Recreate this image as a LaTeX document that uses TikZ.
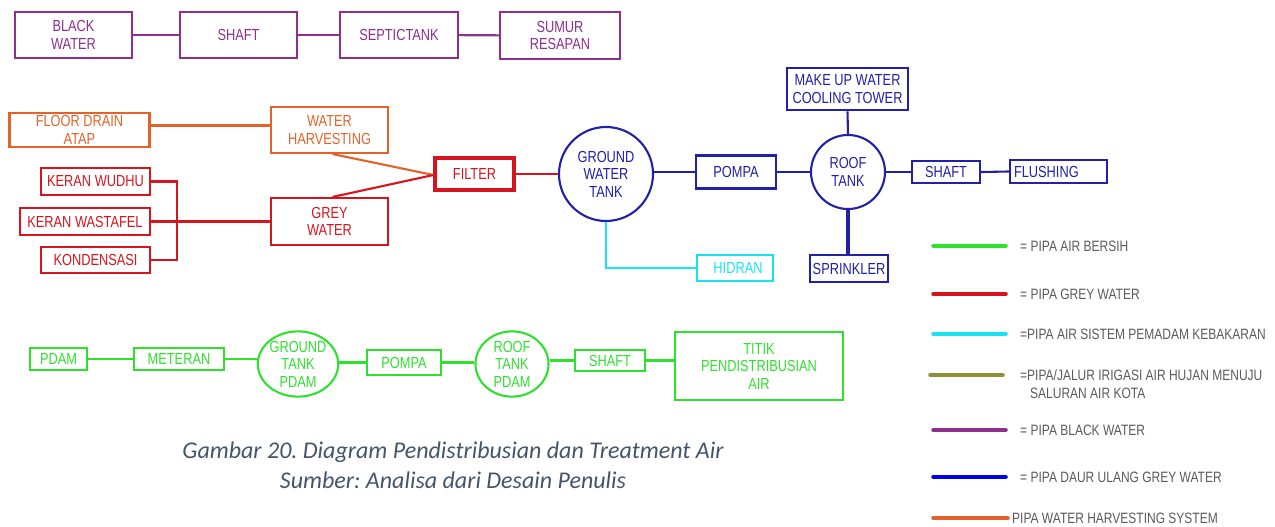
\documentclass[tikz,border=0pt]{standalone}
\usepackage{fontspec}
\setmainfont{Liberation Sans}[FakeStretch=0.8]
\newfontfamily\capfont{Carlito}
\usetikzlibrary{shapes.geometric}
\frenchspacing
\definecolor{cpur}{HTML}{8E2F8E}
\definecolor{cora}{HTML}{E2622A}
\definecolor{cred}{HTML}{D7141E}
\definecolor{cblu}{HTML}{2020A8}
\definecolor{cbluL}{HTML}{0000E6}
\definecolor{ccya}{HTML}{19E3F0}
\definecolor{cgrn}{HTML}{2FE02F}
\definecolor{coli}{HTML}{8F8F35}
\definecolor{cgry}{HTML}{5A5A5A}
\definecolor{ccap}{HTML}{44546A}
\tikzset{
  box/.style={draw, rectangle, inner sep=0pt, align=center, line width=2.1pt,
    font=\fontsize{16}{17.5}\selectfont},
  tank/.style={draw, circle, inner sep=0pt, align=center, line width=2.1pt,
    font=\fontsize{16}{17.5}\selectfont},
  oval/.style={draw, ellipse, inner sep=0pt, align=center, line width=2.1pt,
    font=\fontsize{16}{17.5}\selectfont},
  pur/.style={cpur, text=cpur},
  ora/.style={cora, text=cora},
  red/.style={cred, text=cred},
  blu/.style={cblu, text=cblu},
  cya/.style={ccya, text=ccya},
  grn/.style={cgrn, text=cgrn},
  pipe/.style={line width=2.1pt},
  legline/.style={line width=3.5pt, line cap=round},
  legtext/.style={anchor=west, inner sep=0pt, text=cgry, font=\fontsize{15}{17}\selectfont},
}
\begin{document}
\begin{tikzpicture}[x=1pt,y=-1pt]
\path[use as bounding box] (0,0) rectangle (1275,527);
% black water row
\node[box,pur,minimum width=117pt,minimum height=46pt] (bw) at (73.5,35) {BLACK\\WATER};
\node[box,pur,minimum width=117pt,minimum height=46pt] (sh1) at (238.5,35) {SHAFT};
\node[box,pur,minimum width=118pt,minimum height=46pt] (sep) at (399,35) {SEPTICTANK};
\node[box,pur,minimum width=120pt,minimum height=47pt] (sum) at (560,35.5) {SUMUR\\RESAPAN};
\draw[pipe,cpur] (bw) -- (sh1);
\draw[pipe,cpur] (sh1) -- (sep);
\draw[pipe,cpur] (sep) -- (sum);
% harvesting / grey water
\node[box,ora,minimum width=140pt,minimum height=34pt] (fd) at (79.5,130) {FLOOR DRAIN\\ATAP};
\node[box,ora,minimum width=117pt,minimum height=46pt] (wh) at (329.5,130) {WATER\\HARVESTING};
\draw[pipe,cora] ([yshift=4.5pt]fd.east) -- ([yshift=4.5pt]wh.west);
\node[box,red,minimum width=109pt,minimum height=27pt] (kw) at (95.5,181.5) {KERAN WUDHU};
\node[box,red,minimum width=130pt,minimum height=27pt] (kwa) at (85,221.5) {KERAN WASTAFEL};
\node[box,red,minimum width=109pt,minimum height=26pt] (kon) at (95.5,260) {KONDENSASI};
\node[box,red,minimum width=117pt,minimum height=47pt] (gw) at (329.5,221.5) {GREY\\WATER};
\draw[pipe,cred] (kw.east) -- ++(26,0) |- (kon.east);
\draw[pipe,cred] (kwa.east) -- (gw.west);
\node[box,red,line width=3.2pt,minimum width=79pt,minimum height=32pt] (filter) at (474.5,174) {FILTER};
\draw[pipe,cora] ([xshift=3pt]wh.south) -- ([yshift=-1pt]filter.west);
\draw[pipe,cred] ([xshift=3pt]gw.north) -- ([yshift=-1pt]filter.west);
% grey water recycle
\node[tank,blu,minimum size=94pt] (gwt) at (606,174) {GROUND\\WATER\\TANK};
\draw[pipe,cred] (filter.east) -- (gwt.west);
\node[box,blu,line width=2.6pt,minimum width=80pt,minimum height=33pt] (pom1) at (736,172) {POMPA};
\draw[pipe,cblu] (gwt.east |- pom1.west) -- (pom1.west);
\node[tank,blu,minimum size=74pt] (rt) at (848,172) {ROOF\\TANK};
\draw[pipe,cblu] (pom1.east) -- (rt.west);
\node[box,blu,line width=2.6pt,minimum width=121pt,minimum height=42pt] (mu) at (847.5,89) {MAKE UP WATER\\COOLING TOWER};
\draw[pipe,cblu] (mu.south) -- (rt.north);
\node[box,blu,line width=2.6pt,minimum width=78pt,minimum height=27pt] (spr) at (849,268.5) {SPRINKLER};
\draw[cblu,line width=3.4pt] (rt.south) -- (rt.south |- spr.north);
\node[box,blu,minimum width=68pt,minimum height=22pt] (sh2) at (946,172) {SHAFT};
\draw[cblu,line width=2.6pt] (rt.east) -- (sh2.west);
\node[box,blu,minimum width=97pt,minimum height=23pt,text width=89pt,align=left] (flu) at (1058.5,171.5) {FLUSHING};
\draw[pipe,cblu] (sh2.east) -- (flu.west);
\node[box,cya,minimum width=76pt,minimum height=26pt] (hid) at (735,268) {\hspace*{6pt}HIDRAN};
\draw[pipe,ccya] (gwt.south) |- (hid.west);
% clean water row
\node[box,grn,minimum width=57pt,minimum height=22pt] (pdam) at (58.5,359) {PDAM};
\node[box,grn,minimum width=90pt,minimum height=22pt] (met) at (179,359) {METERAN};
\node[oval,grn,minimum width=70pt,minimum height=62pt] (gt) at (298,364) {GROUND\\TANK\\PDAM};
\node[box,grn,minimum width=74pt,minimum height=25pt] (pom2) at (404,362.5) {POMPA};
\node[oval,grn,minimum width=73pt,minimum height=62pt] (rt2) at (512,364) {ROOF\\TANK\\PDAM};
\node[box,grn,minimum width=70pt,minimum height=21pt] (sh3) at (610,360.5) {SHAFT};
\node[box,grn,minimum width=168pt,minimum height=68pt] (tit) at (759,366) {TITIK\\PENDISTRIBUSIAN\\AIR};
\draw[pipe,cgrn] (pdam.east) -- (met.west);
\draw[pipe,cgrn] (met.east) -- (met.east -| gt.west);
\draw[pipe,cgrn] (gt.east |- pom2.west) -- (pom2.west);
\draw[pipe,cgrn] (pom2.east) -- (pom2.east -| rt2.west);
\draw[pipe,cgrn] (rt2.east |- sh3.east) -- (sh3.west);
\draw[pipe,cgrn] (sh3.east) -- (sh3.east -| tit.west);
% legend
\draw[legline,cgrn] (933,246) -- (1006,246);
\node[legtext] (l1) at (1020,246) {= PIPA AIR BERSIH};
\draw[legline,cred] (933,294) -- (1006,294);
\node[legtext] (l2) at (1020,294) {= PIPA GREY WATER};
\draw[legline,ccya] (933,334) -- (1006,334);
\node[legtext] (l3) at (1020,334) {=PIPA AIR SISTEM PEMADAM KEBAKARAN};
\draw[legline,coli] (930,375) -- (1003,375);
\node[legtext] (l4) at (1020,375) {=PIPA/JALUR IRIGASI AIR HUJAN MENUJU};
\node[legtext] (l4b) at (1030,393) {SALURAN AIR KOTA};
\draw[legline,cpur] (933,430) -- (1006,430);
\node[legtext] (l5) at (1020,430) {= PIPA BLACK WATER};
\draw[legline,cbluL] (933,477) -- (1006,477);
\node[legtext] (l6) at (1020,477) {= PIPA DAUR ULANG GREY WATER};
\draw[legline,cora] (933,518) -- (1008,518);
\node[legtext] (l7) at (1012,518) {PIPA WATER HARVESTING SYSTEM};
% caption
\node[text=ccap, font=\capfont\itshape\fontsize{24}{30}\selectfont, align=center] (cap) at (453,465)
  {Gambar 20. Diagram Pendistribusian dan Treatment Air\\Sumber: Analisa dari Desain Penulis};
\end{tikzpicture}
\end{document}
